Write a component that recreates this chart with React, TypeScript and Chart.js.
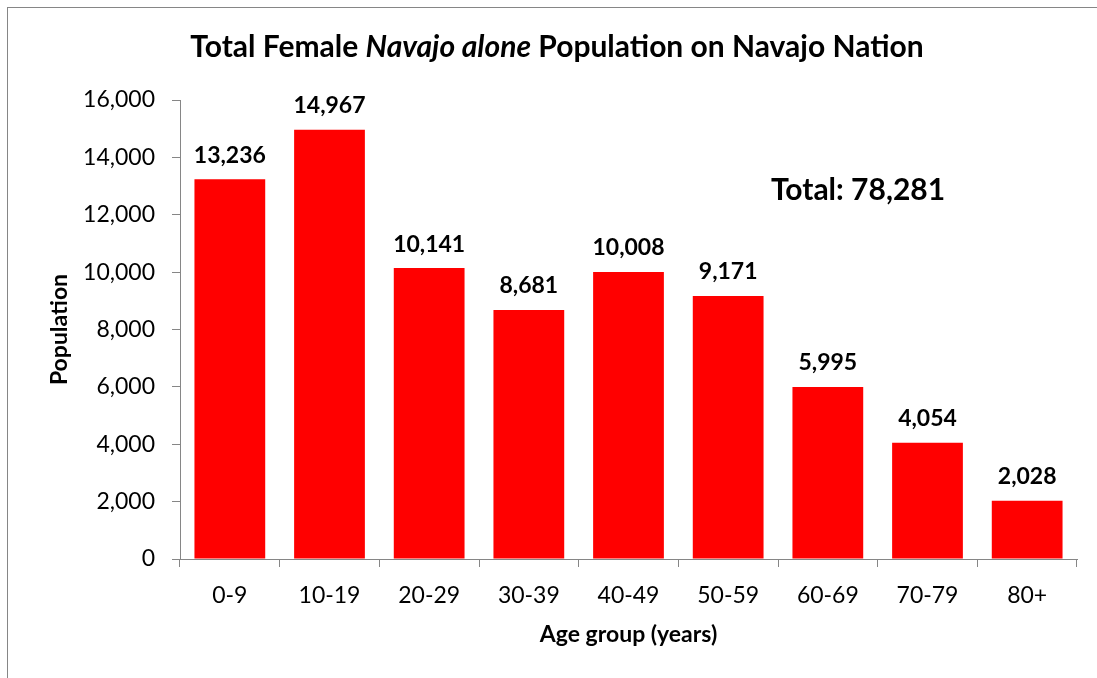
import React, { useEffect, useRef } from "react";
import { Chart, registerables } from "chart.js";

Chart.register(...registerables);

const categories = ["0-9", "10-19", "20-29", "30-39", "40-49", "50-59", "60-69", "70-79", "80+"];
const population = [13236, 14967, 10141, 8681, 10008, 9171, 5995, 4054, 2028];
const totalLabel = "Total: 78,281";
const yTickStep = 2000;
const yMax = 16000;

const FONT = "Lato, 'Open Sans', sans-serif";

const decorPlugin = {
  id: "decor",
  beforeDraw(chart: any) {
    const ctx = chart.ctx;
    ctx.save();
    ctx.strokeStyle = "#868686";
    ctx.lineWidth = 1;
    ctx.strokeRect(7.5, 7.5, 1200, 800);
    ctx.restore();
  },
  afterDraw(chart: any) {
    const ctx = chart.ctx;
    ctx.save();
    const parts = [
      { t: "Total Female ", i: false },
      { t: "Navajo alone", i: true },
      { t: " Population on Navajo Nation", i: false },
    ];
    const size = 30;
    let total = 0;
    parts.forEach((p) => {
      ctx.font = `${p.i ? "italic " : ""}bold ${size}px ${FONT}`;
      total += ctx.measureText(p.t).width;
    });
    let x = 557 - total / 2;
    ctx.fillStyle = "#000";
    ctx.textBaseline = "middle";
    ctx.textAlign = "left";
    parts.forEach((p) => {
      ctx.font = `${p.i ? "italic " : ""}bold ${size}px ${FONT}`;
      ctx.fillText(p.t, x, 47);
      x += ctx.measureText(p.t).width;
    });
    const meta = chart.getDatasetMeta(0);
    ctx.font = `bold 23px ${FONT}`;
    ctx.textAlign = "center";
    ctx.textBaseline = "middle";
    meta.data.forEach((bar: any, i: number) => {
      ctx.fillText(population[i].toLocaleString("en-US"), bar.x, bar.y - 24);
    });
    ctx.font = `bold 30px ${FONT}`;
    ctx.fillText(totalLabel, 858, 190);
    ctx.restore();
  },
};

export default function App() {
  const ref = useRef<HTMLCanvasElement>(null);
  useEffect(() => {
    if (!ref.current) return;
    const chart = new Chart(ref.current, {
      type: "bar",
      data: {
        labels: categories,
        datasets: [
          {
            data: population,
            backgroundColor: "#FF0000",
            borderWidth: 0,
            barPercentage: 0.71,
            categoryPercentage: 1,
          },
        ],
      },
      plugins: [decorPlugin],
      options: {
        responsive: false,
        animation: false,
        devicePixelRatio: 1,
        layout: { padding: { left: 8, top: 100, right: 20, bottom: 8 } },
        plugins: {
          legend: { display: false },
          title: { display: false },
          tooltip: { enabled: false },
        },
        scales: {
          x: {
            offset: true,
            grid: {
              offset: true,
              drawOnChartArea: false,
              drawTicks: true,
              tickLength: 8,
              color: "#868686",
            },
            border: { color: "#868686", width: 1 },
            ticks: { color: "#000", font: { family: FONT, size: 23 }, padding: 15, maxRotation: 0 },
            title: {
              display: true,
              text: "Age group (years)",
              color: "#000",
              font: { family: FONT, size: 23, weight: "bold" },
              padding: { top: 8, bottom: 22 },
            },
            afterFit: (scale: any) => {
              scale.height = 678 - 559 - 8;
            },
          },
          y: {
            min: 0,
            max: yMax,
            grid: {
              drawOnChartArea: false,
              drawTicks: true,
              tickLength: 8,
              color: "#868686",
            },
            border: { color: "#868686", width: 1 },
            ticks: {
              stepSize: yTickStep,
              color: "#000",
              font: { family: FONT, size: 23 },
              padding: 17,
              callback: (v: any) => Number(v).toLocaleString("en-US"),
            },
            title: {
              display: true,
              text: "Population",
              color: "#000",
              font: { family: FONT, size: 23, weight: "bold" },
              padding: { top: 38, bottom: 0 },
            },
            afterFit: (scale: any) => {
              scale.width = 180 - 8;
            },
          },
        },
      },
    } as any);
    return () => chart.destroy();
  }, []);
  return (
    <div style={{ position: "fixed", left: 0, top: 0, width: 1097, height: 678, background: "#fff" }}>
      <canvas ref={ref} width={1097} height={678} style={{ width: 1097, height: 678 }} />
    </div>
  );
}
